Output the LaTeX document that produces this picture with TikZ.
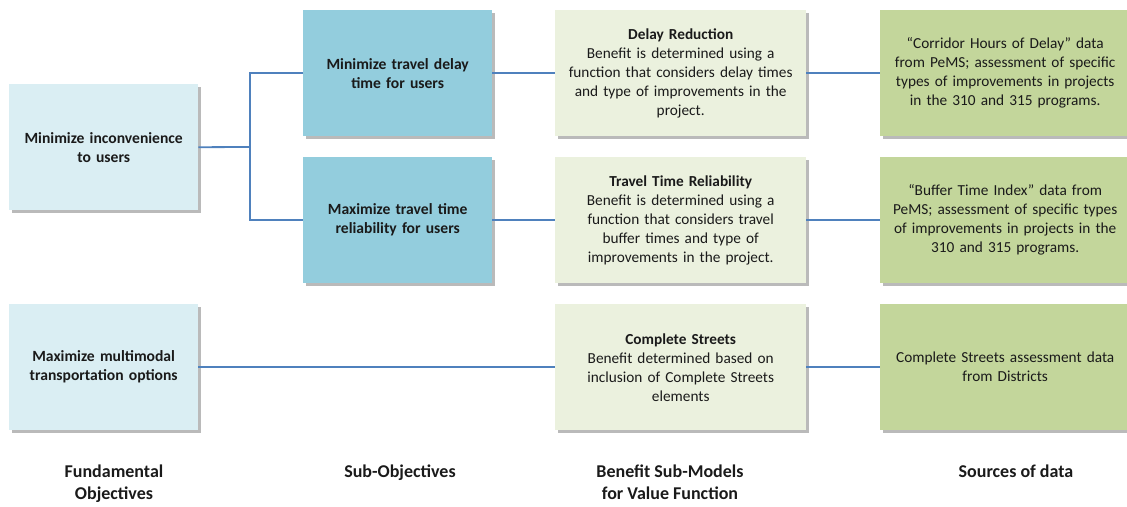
\documentclass[tikz,border=0pt]{standalone}
\usepackage{fontspec}
\setmainfont{Carlito}
\usetikzlibrary{positioning, shadows}

\definecolor{fundblue}{HTML}{DAEEF3}
\definecolor{subblue}{HTML}{93CDDD}
\definecolor{modelgreen}{HTML}{EBF1DE}
\definecolor{datagreen}{HTML}{C3D69B}
\definecolor{linkblue}{HTML}{4F81BD}
\definecolor{inkgray}{HTML}{1A1A1A}

\tikzset{
    box/.style={anchor=north west, minimum height=126pt, inner sep=0pt,
        align=center, text=inkgray, font=\fontsize{15.3}{19}\selectfont,
        drop shadow={shadow xshift=2.5pt, shadow yshift=-2.5pt,
            opacity=0.45, fill=black!60}},
    fundbox/.style={box, fill=fundblue, minimum width=189pt,
        text width=187pt, font=\fontsize{15.6}{19}\selectfont\bfseries},
    subbox/.style={box, fill=subblue, minimum width=189pt,
        text width=187pt, font=\fontsize{15.6}{19}\selectfont\bfseries},
    modelbox/.style={box, fill=modelgreen, minimum width=251pt,
        text width=249pt},
    databox/.style={box, fill=datagreen, minimum width=250pt,
        text width=248pt},
    caption/.style={align=center, text=inkgray,
        font=\fontsize{18}{22}\selectfont\bfseries},
    link/.style={draw=linkblue, line width=1.8pt}
}

\begin{document}
\begin{tikzpicture}[x=1pt, y=-1pt]

    \useasboundingbox (0,0) rectangle (1127,506);

    % ============================================================
    % FUNDAMENTAL OBJECTIVES
    % ============================================================
    \node[fundbox] (inconv) at (9,84)
        {Minimize inconvenience\\to users};
    \node[fundbox] (multimodal) at (9,304)
        {Maximize multimodal\\transportation options};

    % ============================================================
    % SUB-OBJECTIVES
    % ============================================================
    \node[subbox] (delay) at (303,10)
        {Minimize travel delay\\time for users};
    \node[subbox] (reliab) at (303,157)
        {Maximize travel time\\reliability for users};

    % ============================================================
    % BENEFIT SUB-MODELS
    % ============================================================
    \node[modelbox] (delaymod) at (555,10)
        {\textbf{Delay Reduction}\\Benefit is determined using a\\
         function that considers delay times\\
         and type of improvements in the\\project.};
    \node[modelbox] (reliabmod) at (555,157)
        {\textbf{Travel Time Reliability}\\Benefit is determined using a\\
         function that considers travel\\buffer times and type of\\
         improvements in the project.};
    \node[modelbox] (streetmod) at (555,304)
        {\textbf{Complete Streets}\\Benefit determined based on\\
         inclusion of Complete Streets\\elements};

    % ============================================================
    % SOURCES OF DATA
    % ============================================================
    \node[databox] (delaydata) at (880,10)
        {``Corridor Hours of Delay'' data\\from PeMS; assessment of specific\\
         types of improvements in projects\\in the 310 and 315 programs.};
    \node[databox] (reliabdata) at (880,157)
        {``Buffer Time Index'' data from\\PeMS; assessment of specific types\\
         of improvements in projects in the\\310 and 315 programs.};
    \node[databox] (streetdata) at (880,304)
        {Complete Streets assessment data\\from Districts};

    % ============================================================
    % CONNECTORS
    % ============================================================
    \coordinate (split) at (250,147);
    \draw[link] (inconv.east) -- (split);
    \draw[link] (delay.west) -| (split |- reliab.west) -- (reliab.west);
    \draw[link] (delay.east) -- (delaymod.west);
    \draw[link] (delaymod.east) -- (delaydata.west);
    \draw[link] (reliab.east) -- (reliabmod.west);
    \draw[link] (reliabmod.east) -- (reliabdata.west);
    \draw[link] (multimodal.east) -- (streetmod.west);
    \draw[link] (streetmod.east) -- (streetdata.west);

    % column captions
    \node[caption, anchor=north] (capfund) at (114,461) {Fundamental\\Objectives};
    \node[caption, anchor=north] (capsub) at (400,461) {Sub-Objectives};
    \node[caption, anchor=north] (capmodel) at (670,461) {Benefit Sub-Models\\for Value Function};
    \node[caption, anchor=north] (capdata) at (1016,461) {Sources of data};

\end{tikzpicture}
\end{document}
